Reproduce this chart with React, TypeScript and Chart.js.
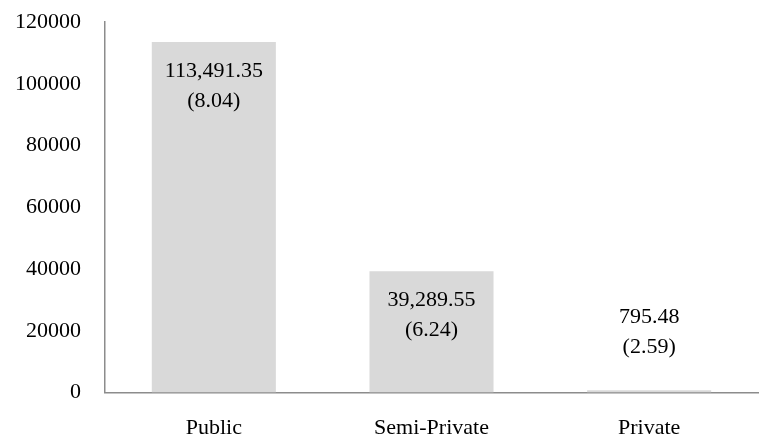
import { useEffect, useRef } from "react";
import { Chart, registerables, Plugin } from "chart.js";

Chart.register(...registerables);

const categories = ["Public", "Semi-Private", "Private"];
const amounts = [113491.35, 39289.55, 795.48];
const shares = [8.04, 6.24, 2.59];
const yTicks = [0, 20000, 40000, 60000, 80000, 100000, 120000];

const FONT = "'Liberation Serif', 'Times New Roman', serif";

// draws "amount\n(share)" at the top of each bar, or above it if the bar is too short
const barLabels: Plugin<"bar"> = {
    id: "barLabels",
    afterDatasetsDraw(chart) {
        const ctx = chart.ctx;
        const meta = chart.getDatasetMeta(0);
        ctx.save();
        ctx.font = `22px ${FONT}`;
        ctx.fillStyle = "#000";
        ctx.textAlign = "center";
        ctx.textBaseline = "middle";
        meta.data.forEach((bar: any, i: number) => {
            const first = amounts[i].toLocaleString("en-US", { minimumFractionDigits: 2 });
            const second = `(${shares[i].toFixed(2)})`;
            const h = bar.base - bar.y;
            let y1: number;
            if (h > 80) {
                y1 = bar.y + 29;
            } else {
                y1 = bar.y - 73;
            }
            ctx.fillText(first, bar.x, y1);
            ctx.fillText(second, bar.x, y1 + 30);
        });
        ctx.restore();
    },
};

export default function App() {
    const canvasRef = useRef<HTMLCanvasElement>(null);
    const chartRef = useRef<Chart | null>(null);

    useEffect(() => {
        document.body.style.margin = "0";
        if (chartRef.current) chartRef.current.destroy();
        if (!canvasRef.current) return;
        chartRef.current = new Chart(canvasRef.current, {
            type: "bar",
            data: {
                labels: categories,
                datasets: [
                    {
                        data: amounts,
                        backgroundColor: "#d9d9d9",
                        categoryPercentage: 1,
                        barPercentage: 0.57,
                    },
                ],
            },
            options: {
                animation: false,
                responsive: false,
                layout: { padding: { top: 22, right: 12, left: -9, bottom: -18 } },
                plugins: {
                    legend: { display: false },
                    tooltip: { enabled: false },
                },
                scales: {
                    x: {
                        grid: { display: false, drawTicks: false },
                        border: { display: true, color: "#8c8c8c", width: 1.5 },
                        ticks: {
                            color: "#000",
                            font: { family: FONT, size: 22 },
                            padding: 22,
                        },
                    },
                    y: {
                        min: 0,
                        max: 120000,
                        afterBuildTicks: (axis) => {
                            axis.ticks = yTicks.map((v) => ({ value: v }));
                        },
                        // tick padding is added above the top label too; drop it
                        afterFit: (axis: any) => {
                            axis.paddingTop = 0;
                        },
                        grid: { display: false, drawTicks: false },
                        border: { display: true, color: "#8c8c8c", width: 1.5 },
                        ticks: {
                            color: "#000",
                            font: { family: FONT, size: 22 },
                            padding: 24,
                            callback: (v) => String(v),
                        },
                    },
                },
            },
            plugins: [barLabels],
        });
        return () => {
            if (chartRef.current) {
                chartRef.current.destroy();
                chartRef.current = null;
            }
        };
    }, []);

    return (
        <div style={{ width: 770, height: 445, background: "#fff" }}>
            <canvas ref={canvasRef} width={770} height={445} />
        </div>
    );
}
